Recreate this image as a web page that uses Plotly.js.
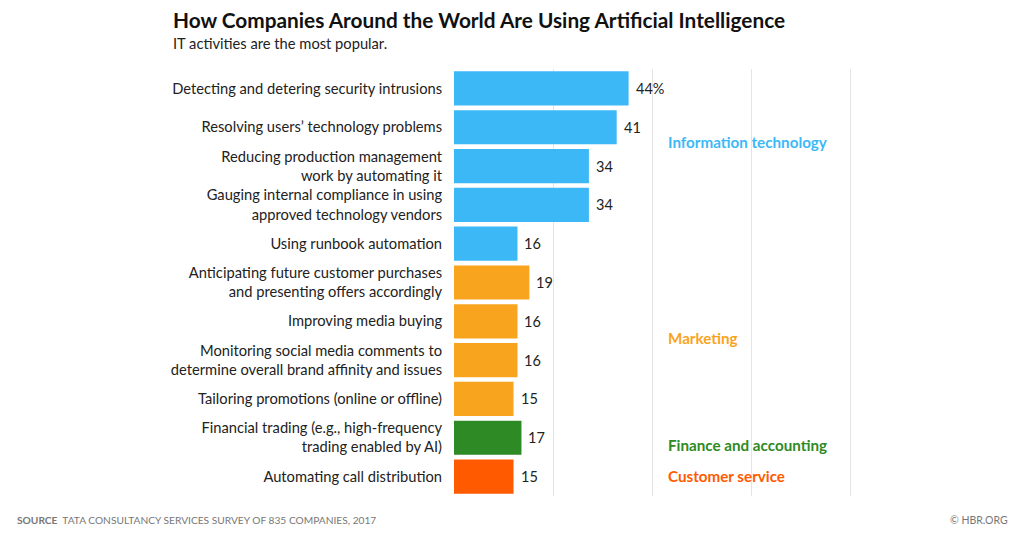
<!DOCTYPE html>
<html>
<head>
<meta charset="utf-8">
<script src="https://cdn.plot.ly/plotly-3.0.1.min.js"></script>
<style>
html,body{margin:0;padding:0;background:#fff;}
#chart{width:1024px;height:535px;}
</style>
</head>
<body>
<div id="chart"></div>
<script>
const categories = [
  "Detecting and detering security intrusions",
  "Resolving users’ technology problems",
  "Reducing production management<br>work by automating it",
  "Gauging internal compliance in using<br>approved technology vendors",
  "Using runbook automation",
  "Anticipating future customer purchases<br>and presenting offers accordingly",
  "Improving media buying",
  "Monitoring social media comments to<br>determine overall brand affinity and issues",
  "Tailoring promotions (online or offline)",
  "Financial trading (e.g., high-frequency<br>trading enabled by AI)",
  "Automating call distribution"
];
const values = [44, 41, 34, 34, 16, 19, 16, 16, 15, 17, 15];
const valueLabels = ["44%", "41", "34", "34", "16", "19", "16", "16", "15", "17", "15"];
const groups = ["IT","IT","IT","IT","IT","Marketing","Marketing","Marketing","Marketing","Finance","Customer"];
const groupNames = ["Information technology", "Marketing", "Finance and accounting", "Customer service"];
const groupKeys = ["IT", "Marketing", "Finance", "Customer"];
const gridValues = [0, 25, 50, 75, 100];

const groupColors = {IT: "#3db8f7", Marketing: "#f9a41e", Finance: "#2e8a24", Customer: "#ff5a00"};
const groupLabelPos = {IT: 1.37, Marketing: 6.42, Finance: 9.18, Customer: 9.98};

const FONT = "Lato, 'Open Sans', sans-serif";

const trace = {
  type: "bar",
  orientation: "h",
  y: categories,
  x: values,
  marker: {color: groups.map(g => groupColors[g]), line: {width: 0}},
  hoverinfo: "none"
};

const annotations = [];
categories.forEach((c, i) => {
  annotations.push({
    x: values[i], y: c, xref: "x", yref: "y",
    text: valueLabels[i], showarrow: false,
    xanchor: "left", xshift: 5,
    font: {family: FONT, size: 14.5, color: "#222"}
  });
});
groupKeys.forEach((k, i) => {
  annotations.push({
    x: 53.5, y: groupLabelPos[k], xref: "x", yref: "y",
    text: "<b>" + groupNames[i] + "</b>", showarrow: false,
    xanchor: "left",
    font: {family: FONT, size: 15.2, color: groupColors[k]}
  });
});
const W = 1024, H = 535, L = 454, R = 172, T = 69, B = 39;
const px = (x, y) => ({xref: "paper", yref: "paper", x: (x - L) / (W - L - R), y: 1 - (y - T) / (H - T - B)});
annotations.push(Object.assign(px(171, 19), {
  xanchor: "left", yanchor: "middle",
  text: "<b>How Companies Around the World Are Using Artificial Intelligence</b>",
  showarrow: false, font: {family: FONT, size: 20.8, color: "#111"}
}));
annotations.push(Object.assign(px(171, 43), {
  xanchor: "left", yanchor: "middle",
  text: "IT activities are the most popular.",
  showarrow: false, font: {family: FONT, size: 14.7, color: "#222"}
}));
annotations.push(Object.assign(px(15, 520), {
  xanchor: "left", yanchor: "middle",
  text: "<b>SOURCE</b>  TATA CONSULTANCY SERVICES SURVEY OF 835 COMPANIES, 2017",
  showarrow: false, font: {family: FONT, size: 10.2, color: "#777"}
}));
annotations.push(Object.assign(px(1010, 520), {
  xanchor: "right", yanchor: "middle",
  text: "© HBR.ORG",
  showarrow: false, font: {family: FONT, size: 10.5, color: "#777"}
}));

const layout = {
  width: W, height: H,
  margin: {l: L, r: R, t: T, b: B, pad: 0},
  paper_bgcolor: "#fff", plot_bgcolor: "#fff",
  showlegend: false,
  bargap: 0.12,
  font: {family: FONT, size: 14, color: "#222"},
  xaxis: {
    range: [0, 100.3], tickvals: gridValues,
    showticklabels: false, showgrid: true, gridcolor: "#e4e4e4", gridwidth: 1,
    zeroline: false, showline: false, fixedrange: true
  },
  yaxis: {
    type: "category", autorange: "reversed",
    showgrid: false, zeroline: false, showline: false,
    ticks: "outside", ticklen: 8, tickcolor: "rgba(0,0,0,0)",
    tickfont: {family: FONT, size: 14.7, color: "#222"},
    fixedrange: true
  },
  annotations: annotations
};

Plotly.newPlot("chart", [trace], layout, {displayModeBar: false, staticPlot: true});
</script>
</body>
</html>
